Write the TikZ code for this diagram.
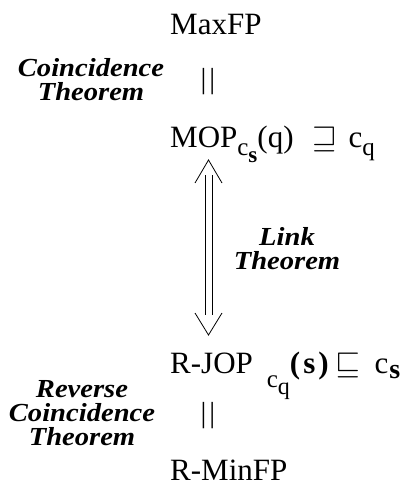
\documentclass[tikz,border=0pt]{standalone}
\usepackage{fontspec}
\usepackage{amssymb}
\usepackage{graphicx}
\setmainfont{Liberation Serif}
\newfontfamily\labfont{Liberation Serif}[FakeStretch=1.1]
\newcommand{\subsz}[2]{{\fontsize{#1}{#1}\selectfont #2}}
\newcommand{\mysqsup}{\resizebox{25pt}{!}{$\sqsupseteq$}}
\newcommand{\mysqsub}{\resizebox{25pt}{!}{$\sqsubseteq$}}
\begin{document}
\begin{tikzpicture}[x=1pt,y=-1pt,
  term/.style={anchor=base west,inner sep=0pt,font=\fontsize{31}{31}\selectfont},
  thm/.style={anchor=base,inner sep=0pt,align=center,font=\labfont\bfseries\itshape\fontsize{26}{24}\selectfont},
  bars/.style={inner sep=0pt,font=\fontsize{29}{29}\selectfont},
  arr/.style={line width=0.8pt}]
\useasboundingbox (0,0) rectangle (416,489);
\node[term] (maxfp) at (170,35) {MaxFP};
\node[bars] (eq1) at (208,82) {|\kern3pt|};
\node[thm] (coinc) at (91,101) {Coincidence\\Theorem};
\node[term] (mop) at (170,148) {MOP\raisebox{-8pt}{\subsz{25}{c}\raisebox{-6pt}{\subsz{23}{\bfseries s}}}(q)\hspace{19pt}\mysqsup\hspace{11pt}c\raisebox{-7pt}{\subsz{25}{q}}};
\coordinate (atop) at (208.5,160);
\coordinate (abot) at (208.5,335);
\draw[arr] ([shift={(-3.5,15)}]atop) -- ([shift={(-3.5,-20)}]abot);
\draw[arr] ([shift={(3.5,15)}]atop) -- ([shift={(3.5,-20)}]abot);
\draw[arr] ([shift={(-13.5,23)}]atop) -- (atop) -- ([shift={(13.5,23)}]atop);
\draw[arr] ([shift={(-13.5,-22)}]abot) -- (abot) -- ([shift={(13.5,-22)}]abot);
\node[thm] (link) at (287,269) {Link\\Theorem};
\node[term] (rjop) at (170,373) {R-JOP\hspace{14pt}\raisebox{-14pt}{\subsz{25}{c}\raisebox{-7pt}{\subsz{24}{q}}}\textbf{(\hspace{3pt}s\hspace{3pt})}\hspace{7pt}\mysqsub\hspace{14pt}c\kern1pt\raisebox{-5pt}{\subsz{28}{\bfseries s}}};
\node[bars] (eq2) at (208,416) {|\kern3pt|};
\node[thm] (rev) at (82,445) {Reverse\\Coincidence\\Theorem};
\node[term] (rminfp) at (170,480) {R-MinFP};
\end{tikzpicture}
\end{document}
